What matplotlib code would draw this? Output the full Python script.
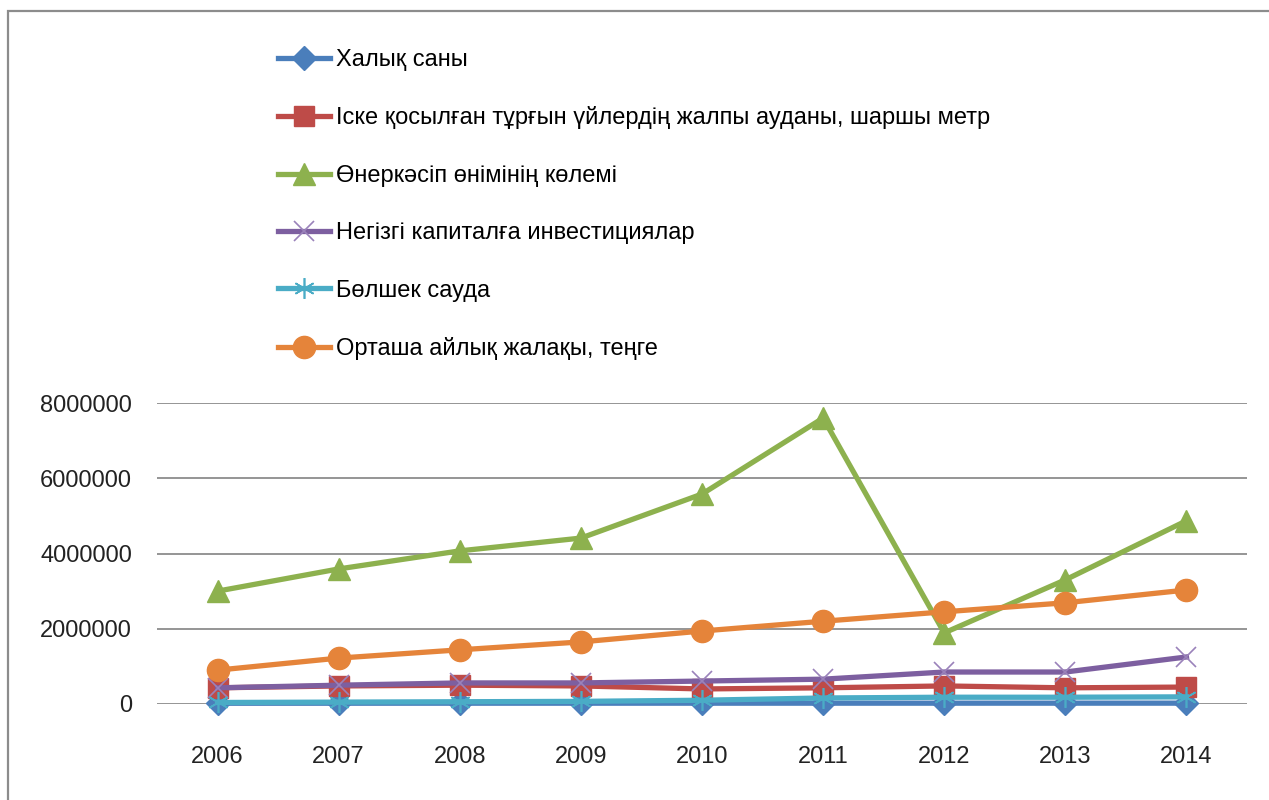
import matplotlib.pyplot as plt
from matplotlib.patches import Rectangle

plt.rcParams['font.family'] = ['Liberation Sans', 'DejaVu Sans']

years = ['2006', '2007', '2008', '2009', '2010', '2011', '2012', '2013', '2014']

population = [20000, 20500, 21000, 21200, 21500, 21800, 22000, 22300, 22500]
housing_area = [430000, 480000, 500000, 480000, 400000, 430000, 480000, 430000, 450000]
industry = [3000000, 3590000, 4070000, 4410000, 5580000, 7600000, 1890000, 3300000, 4870000]
investment = [430000, 500000, 560000, 560000, 610000, 660000, 850000, 850000, 1250000]
retail = [40000, 50000, 60000, 70000, 100000, 160000, 180000, 180000, 190000]
salary = [900000, 1220000, 1440000, 1650000, 1940000, 2200000, 2450000, 2690000, 3030000]

labels = [
    'Халық саны',
    'Іске қосылған тұрғын үйлердің жалпы ауданы, шаршы метр',
    'Өнеркәсіп өнімінің көлемі',
    'Негізгі капиталға инвестициялар',
    'Бөлшек сауда',
    'Орташа айлық жалақы, теңге',
]

fig = plt.figure(figsize=(12.69, 8), dpi=100)
ax = fig.add_axes([157 / 1269, 96 / 800, 1090 / 1269, 301 / 800])

x = range(len(years))
lw = 3.8
style = dict(lw=lw, zorder=3, clip_on=False)
ax.plot(x, population, color='#4A7EBB', marker='D', ms=12, label=labels[0], **style)
ax.plot(x, housing_area, color='#BE4B48', marker='s', ms=14, label=labels[1], **style)
ax.plot(x, industry, color='#8DB14E', marker='^', ms=16, label=labels[2], **style)
ax.plot(x, investment, color='#7D5FA0', marker='x', ms=15, mew=1.2,
        mec='#9A82BA', label=labels[3], **style)
ax.plot(x, retail, color='#4AACC6', marker=(6, 2, 0), ms=15, mew=1.2,
        mec='#4AACC6', label=labels[4], **style)
ax.plot(x, salary, color='#E5843A', marker='o', ms=16, label=labels[5], **style)

ax.set_xlim(-0.5, len(years) - 0.5)
ax.set_ylim(0, 8000000)
ax.set_yticks([0, 2000000, 4000000, 6000000, 8000000])
ax.set_yticklabels(['0', '2000000', '4000000', '6000000', '8000000'])
ax.set_xticks(list(x))
ax.set_xticklabels(years)
ax.tick_params(axis='both', length=0, labelsize=17, colors='#222222')
ax.tick_params(axis='y', pad=18)
ax.tick_params(axis='x', pad=30)
ax.grid(axis='y', color='#8C8C8C', lw=1.3)
ax.set_axisbelow(True)
for s in ax.spines.values():
    s.set_visible(False)

fig.legend(loc='upper left', bbox_to_anchor=(278 / 1269, 1 - 49 / 800), frameon=False,
           fontsize=17, labelspacing=1.5, handlelength=2.2, handletextpad=0.25,
           borderpad=0, borderaxespad=0)

fig.patches.append(Rectangle((8 / 1269, -0.1), 1.2, 1.1 - 11 / 800,
                             transform=fig.transFigure, fill=False,
                             edgecolor='#8C8C8C', lw=1.6))

fig.savefig('out.png', dpi=100)
